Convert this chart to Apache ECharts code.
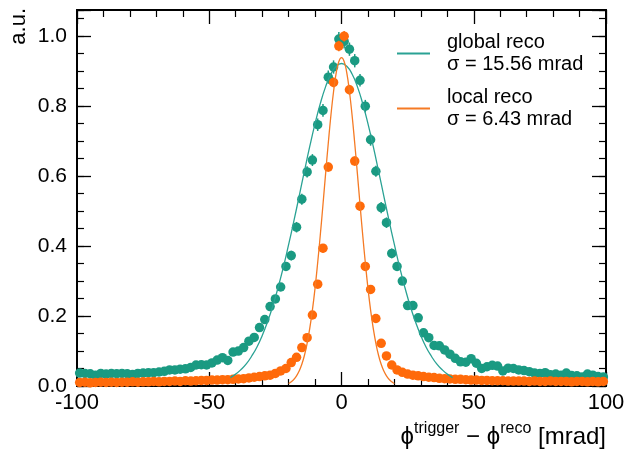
<!DOCTYPE html>
<html>
<head>
<meta charset="utf-8">
<title>phi resolution</title>
<script src="https://cdn.jsdelivr.net/npm/echarts/dist/echarts.min.js"></script>
<style>
  html, body { margin: 0; padding: 0; background: #fff; }
  #chart { width: 629px; height: 450px; }
</style>
</head>
<body>
<div id="chart"></div>
<script>
// bin centres [mrad]
var binCenters = [
  -99, -97, -95, -93, -91, -89, -87, -85, -83, -81, -79, -77, -75, -73, -71, -69, -67, -65, -63, -61, -59, -57, -55, -53, -51,
  -49, -47, -45, -43, -41, -39, -37, -35, -33, -31, -29, -27, -25, -23, -21, -19, -17, -15, -13, -11, -9, -7, -5, -3, -1,
  1, 3, 5, 7, 9, 11, 13, 15, 17, 19, 21, 23, 25, 27, 29, 31, 33, 35, 37, 39, 41, 43, 45, 47, 49,
  51, 53, 55, 57, 59, 61, 63, 65, 67, 69, 71, 73, 75, 77, 79, 81, 83, 85, 87, 89, 91, 93, 95, 97, 99
];

// global reco points
var globalVals = [
  0.037, 0.036, 0.035, 0.031, 0.036, 0.034, 0.036, 0.035, 0.036, 0.035, 0.033, 0.036, 0.037, 0.038, 0.038, 0.040, 0.042, 0.046, 0.046, 0.048, 0.049, 0.053, 0.060, 0.061, 0.060,
  0.066, 0.074, 0.081, 0.073, 0.097, 0.100, 0.110, 0.128, 0.139, 0.167, 0.190, 0.227, 0.249, 0.283, 0.342, 0.373, 0.454, 0.534, 0.612, 0.646, 0.747, 0.788, 0.883, 0.912, 0.992,
  0.985, 0.963, 0.930, 0.874, 0.800, 0.704, 0.614, 0.510, 0.467, 0.379, 0.342, 0.300, 0.230, 0.230, 0.195, 0.152, 0.138, 0.116, 0.115, 0.103, 0.091, 0.079, 0.069, 0.068, 0.078,
  0.065, 0.050, 0.055, 0.059, 0.057, 0.043, 0.051, 0.050, 0.046, 0.044, 0.041, 0.037, 0.036, 0.038, 0.032, 0.034, 0.031, 0.037, 0.030, 0.029, 0.026, 0.034, 0.031, 0.027, 0.026
];

// local reco points
var localVals = [
  0.010, 0.011, 0.009, 0.010, 0.011, 0.010, 0.011, 0.010, 0.011, 0.011, 0.012, 0.011, 0.012, 0.012, 0.013, 0.012, 0.013, 0.013, 0.014, 0.013, 0.015, 0.014, 0.015, 0.016, 0.016,
  0.017, 0.017, 0.018, 0.018, 0.019, 0.020, 0.021, 0.023, 0.025, 0.027, 0.029, 0.031, 0.036, 0.043, 0.050, 0.067, 0.082, 0.110, 0.138, 0.203, 0.291, 0.394, 0.626, 0.868, 0.972,
  1.000, 0.847, 0.643, 0.514, 0.342, 0.276, 0.193, 0.122, 0.086, 0.060, 0.046, 0.039, 0.034, 0.031, 0.029, 0.027, 0.025, 0.024, 0.022, 0.021, 0.020, 0.019, 0.019, 0.018, 0.017,
  0.017, 0.016, 0.016, 0.015, 0.015, 0.015, 0.014, 0.014, 0.014, 0.014, 0.013, 0.014, 0.013, 0.013, 0.014, 0.013, 0.013, 0.013, 0.012, 0.013, 0.013, 0.012, 0.013, 0.012, 0.013
];

// error bars that stick out of the markers (central bins only)
var errBins = [-19, -17, -15, -13, -11, -9, -7, -5, -3, -1, 1, 3, 5, 7, 9, 11, 13, 15, 17, 19];
var globalErr = [0.014, 0.015, 0.016, 0.016, 0.017, 0.018, 0.018, 0.019, 0.019, 0.020,
  0.020, 0.019, 0.019, 0.018, 0.018, 0.017, 0.016, 0.016, 0.015, 0.014];
var localErr = [0.006, 0.007, 0.008, 0.009, 0.010, 0.011, 0.012, 0.013, 0.014, 0.015,
  0.015, 0.014, 0.013, 0.012, 0.011, 0.010, 0.009, 0.008, 0.007, 0.006];

// fit curves
var globalFitX = [-42, -40, -38, -36, -34, -32, -30, -28, -26, -24, -22, -20, -18, -16, -14, -12, -10, -8, -6, -4, -2, 0,
  2, 4, 6, 8, 10, 12, 14, 16, 18, 20, 22, 24, 26, 28, 30, 32, 34, 36, 38, 40, 42];
var globalFitY = [0.024, 0.034, 0.047, 0.063, 0.085, 0.111, 0.144, 0.183, 0.228, 0.281, 0.339, 0.404, 0.472, 0.543, 0.615, 0.685, 0.750, 0.808, 0.856, 0.892, 0.914, 0.922,
  0.914, 0.892, 0.856, 0.808, 0.750, 0.685, 0.615, 0.543, 0.472, 0.404, 0.339, 0.281, 0.228, 0.183, 0.144, 0.111, 0.085, 0.063, 0.047, 0.034, 0.024];

var localFitX = [-20, -19, -18, -17, -16, -15, -14, -13, -12, -11, -10, -9, -8, -7, -6, -5, -4, -3, -2, -1, 0,
  1, 2, 3, 4, 5, 6, 7, 8, 9, 10, 11, 12, 13, 14, 15, 16, 17, 18, 19, 20];
var localFitY = [0.007, 0.012, 0.019, 0.029, 0.043, 0.062, 0.088, 0.122, 0.165, 0.217, 0.280, 0.353, 0.433, 0.519, 0.608, 0.694, 0.774, 0.842, 0.895, 0.928, 0.939,
  0.928, 0.895, 0.842, 0.774, 0.694, 0.608, 0.519, 0.433, 0.353, 0.280, 0.217, 0.165, 0.122, 0.088, 0.062, 0.043, 0.029, 0.019, 0.012, 0.007];

var sigmaText = {
  'global reco': 'σ = 15.56 mrad',
  'local reco': 'σ = 6.43 mrad'
};

var tealDot = '#1a9a82';
var tealLine = '#2aa294';
var orangeDot = '#ff6a0a';
var orangeLine = '#f57a24';
var font = '"Liberation Sans", Arial, sans-serif';

function pairs(xs, ys) {
  return xs.map(function (x, i) { return [x, ys[i]]; });
}

function valueAt(vals, x) {
  return vals[binCenters.indexOf(x)];
}

function errData(vals, errs) {
  return errBins.map(function (x, i) {
    var v = valueAt(vals, x);
    return [x, v - errs[i], v + errs[i]];
  });
}

function errSeries(name, vals, errs, color, z) {
  return {
    name: name,
    type: 'custom',
    z: z,
    data: errData(vals, errs),
    encode: { x: 0, y: [1, 2] },
    renderItem: function (params, api) {
      var lo = api.coord([api.value(0), api.value(1)]);
      var hi = api.coord([api.value(0), api.value(2)]);
      return {
        type: 'line',
        shape: { x1: lo[0], y1: lo[1], x2: hi[0], y2: hi[1] },
        style: { stroke: color, lineWidth: 1.5 }
      };
    }
  };
}

function frameAxis(pos, extra) {
  var a = {
    type: 'value',
    position: pos,
    axisLine: { show: true, onZero: false, lineStyle: { color: '#000', width: 2 } },
    axisTick: { show: true, inside: true, length: 14, lineStyle: { color: '#000', width: 1.3 } },
    axisLabel: { show: false },
    splitLine: { show: false }
  };
  for (var k in extra) a[k] = extra[k];
  return a;
}

var myChart = echarts.init(document.getElementById('chart'));
var option = {
  animation: false,
  grid: { left: 77, right: 23, top: 10, bottom: 64, containLabel: false },
  legend: {
    orient: 'vertical',
    left: 397,
    top: 32,
    padding: 0,
    itemGap: 12,
    itemWidth: 33,
    itemHeight: 2,
    icon: 'rect',
    data: ['global reco', 'local reco'],
    formatter: function (name) { return name + '\n' + sigmaText[name]; },
    textStyle: { fontFamily: font, fontSize: 20, lineHeight: 21.5, color: '#000', padding: [0, 0, 0, 12] }
  },
  xAxis: [
    frameAxis('bottom', {
      min: -100, max: 100, interval: 50,
      minorTick: { show: true, splitNumber: 5, length: 7, lineStyle: { color: '#000', width: 1.2 } },
      axisLabel: { show: true, fontFamily: font, fontSize: 22, color: '#000', margin: 6 }
    }),
    frameAxis('top', {
      min: -100, max: 100, interval: 50,
      minorTick: { show: true, splitNumber: 5, length: 7, lineStyle: { color: '#000', width: 1.2 } }
    })
  ],
  yAxis: [
    frameAxis('left', {
      min: 0, max: 1.075, interval: 0.2,
      axisLabel: {
        show: true, fontFamily: font, fontSize: 21, color: '#000', margin: 10,
        formatter: function (v) {
          return Math.abs(v * 5 - Math.round(v * 5)) < 1e-6 ? v.toFixed(1) : '';
        }
      }
    }),
    frameAxis('right', { min: 0, max: 1.075, interval: 0.2 }),
    // minor ticks every 0.05
    frameAxis('left', { min: 0, max: 1.075, interval: 0.05, axisTick: { show: true, inside: true, length: 7, lineStyle: { color: '#000', width: 1.2 } } }),
    frameAxis('right', { min: 0, max: 1.075, interval: 0.05, axisTick: { show: true, inside: true, length: 7, lineStyle: { color: '#000', width: 1.2 } } })
  ],
  series: [
    errSeries('global err', globalVals, globalErr, tealDot, 1),
    {
      name: 'global points',
      type: 'scatter',
      symbol: 'circle',
      symbolSize: 9.5,
      itemStyle: { color: tealDot, opacity: 1 },
      data: pairs(binCenters, globalVals),
      z: 2
    },
    errSeries('local err', localVals, localErr, orangeDot, 3),
    {
      name: 'local points',
      type: 'scatter',
      symbol: 'circle',
      symbolSize: 9.5,
      itemStyle: { color: orangeDot, opacity: 1 },
      data: pairs(binCenters, localVals),
      z: 3
    },
    {
      name: 'global reco',
      type: 'line',
      smooth: true,
      showSymbol: false,
      symbol: 'none',
      color: tealLine,
      lineStyle: { color: tealLine, width: 1.3 },
      data: pairs(globalFitX, globalFitY),
      z: 4
    },
    {
      name: 'local reco',
      type: 'line',
      smooth: true,
      showSymbol: false,
      symbol: 'none',
      color: orangeLine,
      lineStyle: { color: orangeLine, width: 1.3 },
      data: pairs(localFitX, localFitY),
      z: 5
    }
  ],
  graphic: [
    {
      type: 'text',
      x: 19, y: 8,
      rotation: Math.PI / 2,
      style: { text: 'a.u.', fontFamily: font, fontSize: 22, fill: '#000', align: 'right', verticalAlign: 'middle' }
    },
    {
      type: 'text',
      x: 606, y: 435,
      style: {
        text: '{a|ϕ}{s|trigger}{a| − ϕ}{s|reco}{a| [mrad]}',
        align: 'right',
        verticalAlign: 'middle',
        fill: '#000',
        rich: {
          a: { fontFamily: font, fontSize: 24, lineHeight: 28, verticalAlign: 'bottom', fill: '#000' },
          s: { fontFamily: font, fontSize: 16, lineHeight: 18, verticalAlign: 'top', fill: '#000' }
        }
      }
    }
  ]
};
myChart.setOption(option);
</script>
</body>
</html>
